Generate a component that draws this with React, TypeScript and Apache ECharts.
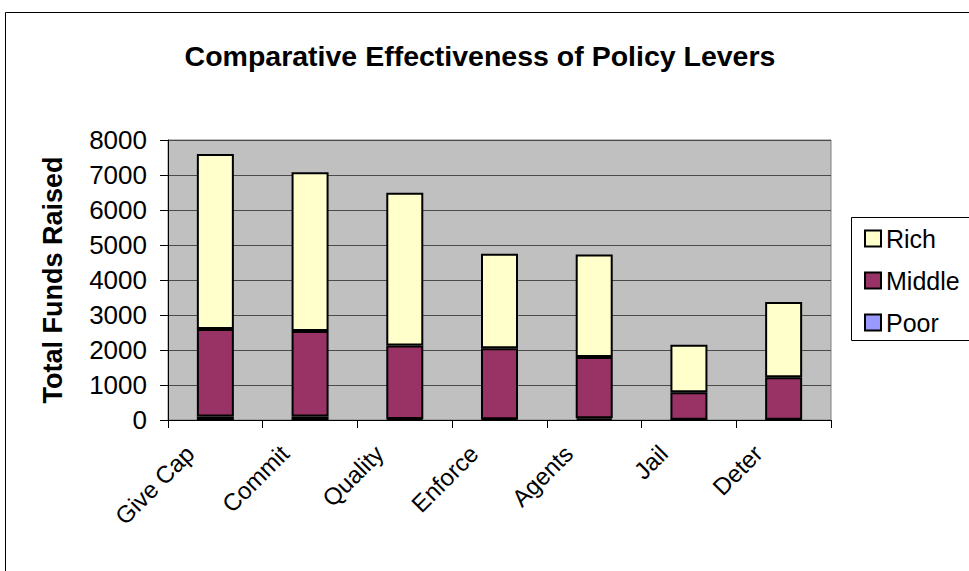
import React, { useEffect, useRef } from "react";
import * as echarts from "echarts";

// Policy levers and funds raised per income group (stacked)
const categories = ["Give Cap", "Commit", "Quality", "Enforce", "Agents", "Jail", "Deter"];
const poor = [100, 100, 30, 20, 50, 10, 10];
const middle = [2500, 2440, 2100, 2030, 1750, 780, 1210];
const rich = [5000, 4540, 4360, 2700, 2930, 1360, 2150];

const yMin = 0;
const yMax = 8000;
const yStep = 1000;

const FONT = "'Liberation Sans', Arial, sans-serif";

export default function App() {
  const ref = useRef<HTMLDivElement>(null);

  useEffect(() => {
    if (!ref.current) return;
    const chart = echarts.init(ref.current, null, { renderer: "svg" });

    const barStyle = (color: string) => ({
      color,
      borderColor: "#000000",
      borderWidth: 2,
    });

    chart.setOption({
      animation: false,
      backgroundColor: "#ffffff",
      textStyle: { fontFamily: FONT },
      grid: {
        left: 168,
        right: 138,
        top: 140,
        bottom: 151,
        show: true,
        backgroundColor: "#C0C0C0",
        borderColor: "#808080",
        borderWidth: 1,
      },
      graphic: [
        {
          type: "rect",
          shape: { x: 5.5, y: 12.5, width: 1000, height: 600 },
          style: { fill: "none", stroke: "#000000", lineWidth: 1 },
          silent: true,
          z: -1,
        },
        {
          type: "text",
          x: 480,
          y: 56,
          style: {
            text: "Comparative Effectiveness of Policy Levers",
            font: `bold 28.5px ${FONT}`,
            fill: "#000000",
            align: "center",
            verticalAlign: "middle",
          },
        },
        {
          type: "rect",
          shape: { x: 851.5, y: 217.5, width: 140, height: 123 },
          style: { fill: "#ffffff", stroke: "#000000", lineWidth: 1 },
          z: 1,
        },
      ],
      legend: {
        data: ["Rich", "Middle", "Poor"],
        orient: "vertical",
        left: 859,
        top: 221,
        itemWidth: 16,
        itemHeight: 16,
        itemGap: 17,
        icon: "rect",
        z: 5,
        textStyle: {
          fontFamily: FONT,
          fontSize: 25,
          lineHeight: 25,
          color: "#000000",
          padding: [0, 0, 0, 0],
        },
      },
      xAxis: {
        type: "category",
        data: categories,
        boundaryGap: true,
        axisLine: { show: true, lineStyle: { color: "#000000", width: 1 } },
        axisTick: { show: true, length: 8, lineStyle: { color: "#000000" } },
        axisLabel: {
          rotate: 45,
          fontSize: 24,
          fontFamily: FONT,
          color: "#000000",
          margin: 4,
          padding: [0, 36, 0, 0],
        },
        splitLine: { show: false },
      },
      yAxis: {
        type: "value",
        min: yMin,
        max: yMax,
        interval: yStep,
        name: "Total Funds Raised",
        nameLocation: "middle",
        nameGap: 102,
        nameTextStyle: {
          fontFamily: FONT,
          fontSize: 27,
          fontWeight: "bold",
          color: "#000000",
        },
        axisLine: { show: true, lineStyle: { color: "#000000", width: 1 } },
        axisTick: { show: true, length: 8, lineStyle: { color: "#000000" } },
        axisLabel: {
          fontSize: 26,
          fontFamily: FONT,
          color: "#000000",
          margin: 21,
          formatter: (v: number) => String(v),
        },
        splitLine: { show: true, lineStyle: { color: "#4a4a4a", width: 1 } },
      },
      series: [
        {
          name: "Poor",
          type: "bar",
          stack: "funds",
          barWidth: 37,
          data: poor,
          itemStyle: barStyle("#9999FF"),
        },
        {
          name: "Middle",
          type: "bar",
          stack: "funds",
          barWidth: 37,
          data: middle,
          itemStyle: barStyle("#993366"),
        },
        {
          name: "Rich",
          type: "bar",
          stack: "funds",
          barWidth: 37,
          data: rich,
          itemStyle: barStyle("#FFFFCC"),
        },
      ],
    });

    return () => chart.dispose();
  }, []);

  return (
    <div
      ref={ref}
      style={{ position: "absolute", left: 0, top: 0, width: 969, height: 571 }}
    />
  );
}
